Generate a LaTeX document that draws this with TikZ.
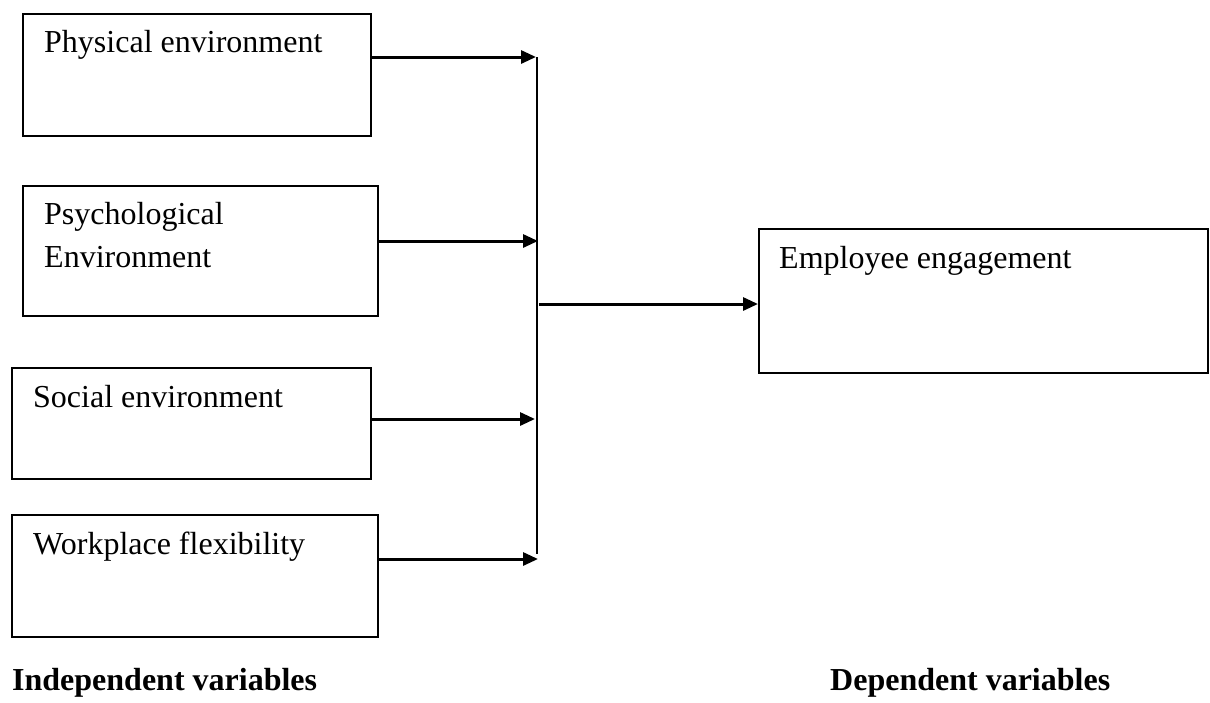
\documentclass[tikz,border=0pt]{standalone}
\usepackage{fontspec}
\setmainfont{Liberation Serif}
\usetikzlibrary{arrows.meta}
\tikzset{
  varbox/.style={draw=black, line width=2pt, rectangle, inner sep=0pt, anchor=north west},
  lbl/.style={anchor=base west, inner sep=0pt, font=\fontsize{32}{43}\selectfont, align=left},
  heading/.style={anchor=base west, inner sep=0pt, font=\fontsize{32}{43}\selectfont\bfseries},
  arr/.style={line width=3pt, -{Triangle[length=15pt,width=13pt]}},
  bus/.style={line width=2pt}
}
\begin{document}
\begin{tikzpicture}[x=1pt,y=-1pt]
\useasboundingbox (0,0) rectangle (1210,702);
% boxes
\node[varbox, minimum width=348pt, minimum height=122pt] (b1) at (22,13) {};
\node[varbox, minimum width=355pt, minimum height=130pt] (b2) at (22,185) {};
\node[varbox, minimum width=359pt, minimum height=111pt] (b3) at (11,367) {};
\node[varbox, minimum width=366pt, minimum height=122pt] (b4) at (11,514) {};
\node[varbox, minimum width=449pt, minimum height=144pt] (b5) at (758,228) {};
% texts
\node[lbl] (t1) at (44,52) {Physical environment};
\node[lbl] (t2a) at (44,224) {Psychological};
\node[lbl] (t2b) at (44,267) {Environment};
\node[lbl] (t3) at (33,407) {Social environment};
\node[lbl] (t4) at (33,554) {Workplace flexibility};
\node[lbl] (t5) at (779,268) {Employee engagement};
\node[heading] (h1) at (12,690) {Independent variables};
\node[heading] (h2) at (830,690) {Dependent variables};
% bus
\coordinate (bt) at (537,57);
\coordinate (bb) at (537,554);
\draw[bus] (bt) -- (bb);
% arrow tips on bus
\coordinate (p1) at (536,57);
\coordinate (p2) at (538,241);
\coordinate (p3) at (535,419);
\coordinate (p4) at (538,559);
\draw[arr] (b1.east |- p1) -- (p1);
\draw[arr] (b2.east |- p2) -- (p2);
\draw[arr] (b3.east |- p3) -- (p3);
\draw[arr] (b4.east |- p4) -- (p4);
% middle arrow
\coordinate (m) at (539,304);
\draw[arr] (m) -- (b5.west |- m);
\end{tikzpicture}
\end{document}
